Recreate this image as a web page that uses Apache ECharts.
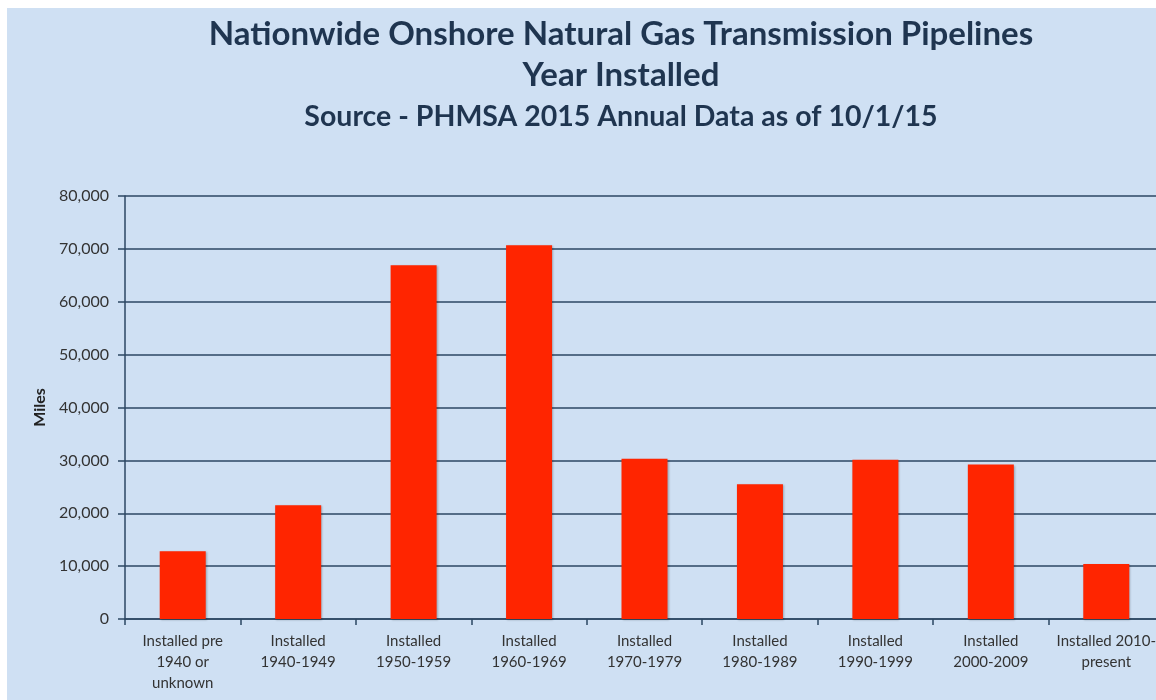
<!DOCTYPE html>
<html>
<head>
<meta charset="utf-8">
<script src="https://cdn.jsdelivr.net/npm/echarts@6/dist/echarts.min.js"></script>
<style>
  html, body { margin: 0; padding: 0; background: #fff; }
  #chart { position: absolute; left: 7px; top: 8px; width: 1149px; height: 692px; }
</style>
</head>
<body>
<div id="chart"></div>
<script>
const categories = [
  'Installed pre\n1940 or\nunknown',
  'Installed\n1940-1949',
  'Installed\n1950-1959',
  'Installed\n1960-1969',
  'Installed\n1970-1979',
  'Installed\n1980-1989',
  'Installed\n1990-1999',
  'Installed\n2000-2009',
  'Installed 2010-\npresent'
]
const miles = [12800, 21500, 66900, 70700, 30300, 25500, 30100, 29200, 10400]
const titleLines = [
  'Nationwide Onshore Natural Gas Transmission Pipelines',
  'Year Installed',
  'Source - PHMSA 2015 Annual Data as of 10/1/15'
]

const navy = '#1f3550'
const lineColor = '#2c4763'
const font = 'Lato, "Open Sans", sans-serif'

const chart = echarts.init(document.getElementById('chart'))
chart.setOption({
  backgroundColor: '#cfe0f3',
  animation: false,
  title: [
    { text: titleLines[0], left: 609, top: 5, textAlign: 'center',
      textStyle: { fontFamily: font, fontSize: 33, fontWeight: 'bold', color: navy } },
    { text: titleLines[1], left: 609, top: 46, textAlign: 'center',
      textStyle: { fontFamily: font, fontSize: 33, fontWeight: 'bold', color: navy } },
    { text: titleLines[2], left: 609, top: 89, textAlign: 'center',
      textStyle: { fontFamily: font, fontSize: 28.5, fontWeight: 'bold', color: navy } }
  ],
  grid: { left: 118, width: 1039, top: 188, bottom: 81, containLabel: false, outerBoundsMode: 'none' },
  xAxis: {
    type: 'category',
    data: categories,
    axisLine: { lineStyle: { color: lineColor, width: 1.5 } },
    axisTick: { show: true, length: 6, lineStyle: { color: lineColor, width: 1.5 } },
    axisLabel: { fontFamily: font, fontSize: 15, color: '#333', lineHeight: 21, margin: 12, interval: 0 }
  },
  yAxis: {
    type: 'value',
    min: 0, max: 80000, interval: 10000,
    name: 'Miles',
    nameLocation: 'middle',
    nameGap: 73,
    nameTextStyle: { fontFamily: font, fontSize: 16, fontWeight: 'bold', color: '#222' },
    axisLine: { show: true, lineStyle: { color: lineColor, width: 1.5 } },
    axisTick: { show: true, length: 7, lineStyle: { color: lineColor, width: 1.5 } },
    splitLine: { lineStyle: { color: lineColor, width: 1.5 } },
    axisLabel: {
      fontFamily: font, fontSize: 16, color: '#333', margin: 16,
      formatter: v => v.toLocaleString('en-US')
    }
  },
  series: [{
    type: 'bar',
    data: miles,
    barWidth: 46,
    itemStyle: {
      color: '#ff2500',
      shadowColor: 'rgba(0,0,0,0.25)', shadowBlur: 2, shadowOffsetX: 1, shadowOffsetY: 1
    }
  }]
})
</script>
</body>
</html>
